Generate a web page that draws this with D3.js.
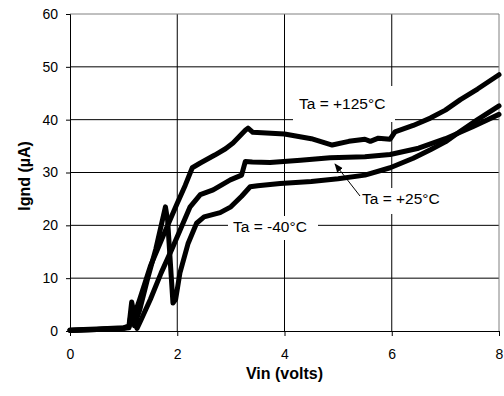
<!DOCTYPE html>
<html>
<head>
<meta charset="utf-8">
<script src="https://cdn.jsdelivr.net/npm/d3@7"></script>
<style>
  body { margin: 0; background: #fff; }
  svg { display: block; font-family: "Liberation Sans", Arial, sans-serif; }
</style>
</head>
<body>
<div id="chart"></div>
<script>
const width = 504
const height = 396

const xTicks = [0, 2, 4, 6, 8]
const yTicks = [0, 10, 20, 30, 40, 50, 60]

// Vin (volts), Ignd (uA)
const vinHot = [0, 0.5, 1.0, 1.1, 1.15, 1.2, 1.3, 1.5, 1.8, 2.0, 2.15, 2.28, 2.43, 2.7, 2.9, 3.04, 3.27, 3.32, 3.41, 4.0, 4.5, 4.89, 5.2, 5.5, 5.6, 5.75, 5.97, 6.06, 6.4, 6.72, 7.0, 7.28, 7.6, 8.0]
const iHot = [0.2, 0.4, 0.6, 1.0, 5.5, 3.0, 6.0, 12.3, 19.5, 24.2, 27.6, 30.9, 31.8, 33.3, 34.5, 35.6, 38.0, 38.4, 37.6, 37.3, 36.4, 35.2, 35.9, 36.3, 35.9, 36.5, 36.3, 37.7, 38.9, 40.3, 41.8, 43.8, 45.8, 48.5]

const vinRoom = [0, 0.5, 1.0, 1.1, 1.15, 1.2, 1.25, 1.32, 1.5, 1.7, 1.9, 2.05, 2.24, 2.43, 2.67, 2.99, 3.2, 3.27, 3.4, 3.73, 4.3, 4.85, 5.5, 5.97, 6.5, 7.0, 7.5, 8.0]
const iRoom = [0.1, 0.3, 0.5, 0.8, 4.0, 2.0, 0.5, 2.0, 6.0, 11.0, 15.5, 19.0, 23.5, 25.8, 26.7, 28.6, 29.5, 32.1, 32.0, 31.9, 32.3, 32.8, 33.0, 33.4, 34.6, 36.4, 38.6, 41.0]

const vinCold = [0, 0.5, 1.0, 1.1, 1.15, 1.2, 1.3, 1.45, 1.6, 1.78, 1.82, 1.92, 1.97, 2.05, 2.2, 2.36, 2.5, 2.8, 3.0, 3.2, 3.36, 3.5, 3.92, 4.5, 5.0, 5.5, 5.97, 6.4, 6.72, 7.0, 7.28, 7.6, 8.0]
const iCold = [0.1, 0.3, 0.5, 0.6, 3.0, 1.0, 4.0, 10.0, 15.5, 23.5, 21.0, 5.3, 6.0, 11.0, 16.5, 20.4, 21.6, 22.4, 23.5, 25.5, 27.3, 27.5, 27.9, 28.3, 28.8, 29.5, 30.9, 32.7, 34.3, 35.8, 37.8, 40.0, 42.6]

const series = [
  { name: 'Ta = +125°C', vin: vinHot, i: iHot },
  { name: 'Ta = +25°C', vin: vinRoom, i: iRoom },
  { name: 'Ta = -40°C', vin: vinCold, i: iCold }
]

const margin = { left: 70, right: 5, top: 14, bottom: 65 }

const x = d3.scaleLinear().domain([0, 8]).range([margin.left, width - margin.right])
const y = d3.scaleLinear().domain([0, 60]).range([height - margin.bottom, margin.top])

const svg = d3.select('#chart').append('svg')
  .attr('width', width)
  .attr('height', height)

// grid
svg.append('g')
  .selectAll('line')
  .data(yTicks.filter(d => d > 0 && d < 60))
  .enter()
  .append('line')
    .attr('x1', x(0)).attr('x2', x(8))
    .attr('y1', d => y(d)).attr('y2', d => y(d))
    .attr('stroke', '#000')

svg.append('g')
  .selectAll('line')
  .data(xTicks.filter(d => d > 0 && d < 8))
  .enter()
  .append('line')
    .attr('x1', d => x(d)).attr('x2', d => x(d))
    .attr('y1', y(0)).attr('y2', y(60))
    .attr('stroke', '#000')

// plot border (top/right grey)
svg.append('path')
  .attr('d', `M${x(0)},${y(60)}H${x(8)}V${y(0)}`)
  .attr('fill', 'none')
  .attr('stroke', '#808080')

// label boxes hide the grid under the text
const boxes = [
  { x: 293, y: 86, w: 102, h: 36 },
  { x: 356, y: 188, w: 92, h: 26 },
  { x: 228, y: 216, w: 90, h: 24 }
]
svg.append('g')
  .selectAll('rect')
  .data(boxes)
  .enter()
  .append('rect')
    .attr('x', d => d.x).attr('y', d => d.y)
    .attr('width', d => d.w).attr('height', d => d.h)
    .attr('fill', '#fff')

// axes
const xAxis = d3.axisBottom(x).tickValues(xTicks).tickSize(5).tickPadding(13)
const yAxis = d3.axisLeft(y).tickValues(yTicks).tickSize(4).tickPadding(8)

const gx = svg.append('g')
  .attr('transform', `translate(0,${y(0)})`)
  .call(xAxis)
const gy = svg.append('g')
  .attr('transform', `translate(${x(0)},0)`)
  .call(yAxis)

;[gx, gy].forEach(g => {
  g.select('.domain').attr('stroke', '#000')
  g.selectAll('.tick line').attr('stroke', '#000')
  g.selectAll('.tick text')
    .attr('fill', '#000')
    .style('font-size', '14px')
    .style('font-family', '"Liberation Sans", Arial, sans-serif')
})

// curves
const line = d3.line()
  .x(d => x(d[0]))
  .y(d => y(d[1]))

svg.append('g')
  .selectAll('path')
  .data(series)
  .enter()
  .append('path')
    .attr('d', s => line(s.vin.map((v, k) => [v, s.i[k]])))
    .attr('fill', 'none')
    .attr('stroke', '#000')
    .attr('stroke-width', 5)
    .attr('stroke-linejoin', 'round')
    .attr('stroke-linecap', 'round')

// labels
const labels = [
  { text: series[0].name, x: 299, y: 109 },
  { text: series[1].name, x: 362, y: 204 },
  { text: series[2].name, x: 233, y: 232 }
]
svg.append('g')
  .selectAll('text')
  .data(labels)
  .enter()
  .append('text')
    .attr('x', d => d.x)
    .attr('y', d => d.y)
    .style('font-size', '15.5px')
    .text(d => d.text)

// arrow to the +25 curve
svg.append('defs').append('marker')
  .attr('id', 'head')
  .attr('viewBox', '0 0 10 10')
  .attr('refX', 9).attr('refY', 5)
  .attr('markerWidth', 9).attr('markerHeight', 9)
  .attr('orient', 'auto')
  .append('path')
    .attr('d', 'M0,1L10,5L0,9z')
    .attr('fill', '#000')

svg.append('line')
  .attr('x1', 360).attr('y1', 196)
  .attr('x2', 335).attr('y2', 164)
  .attr('stroke', '#000')
  .attr('stroke-width', 1)
  .attr('marker-end', 'url(#head)')

// axis titles
svg.append('text')
  .attr('x', x(4))
  .attr('y', 379)
  .attr('text-anchor', 'middle')
  .style('font-size', '16px')
  .style('font-weight', 'bold')
  .text('Vin (volts)')

svg.append('text')
  .attr('transform', 'translate(30,176) rotate(-90)')
  .attr('text-anchor', 'middle')
  .style('font-size', '16px')
  .style('font-weight', 'bold')
  .text('Ignd (µA)')
</script>
</body>
</html>
